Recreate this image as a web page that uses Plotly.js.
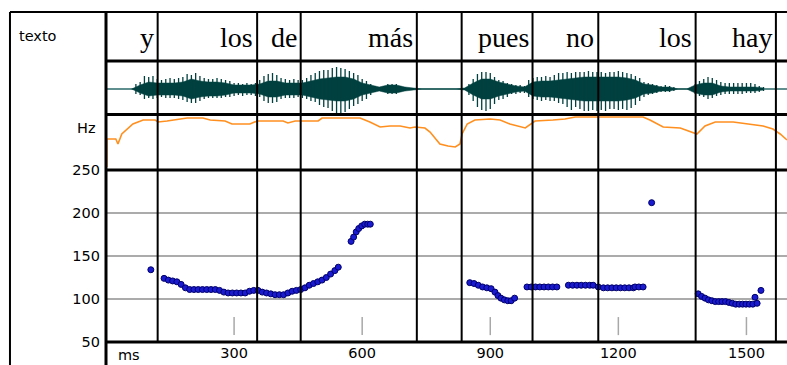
<!DOCTYPE html>
<html>
<head>
<meta charset="utf-8">
<script src="https://cdn.plot.ly/plotly-3.0.1.min.js"></script>
<style>html,body{margin:0;padding:0;background:#fff;}#chart{width:787px;height:365px;}</style>
</head>
<body>
<div id="chart"></div>
<script>
// ---- data ----
const wordNames = ['y', 'los', 'de', 'más', '', 'pues', 'no', 'los', 'hay'];
const wordEnds = [121, 354, 456, 728, 833, 999, 1153, 1381, 1569];

const msTicks = [300, 600, 900, 1200, 1500];
const msTickText = ['300', '600', '900', '1200', '1500'];
const hzTicks = [50, 100, 150, 200, 250];
const hzTickText = ['50', '100', '150', '200', '250'];

// F0 points (ms, Hz)
const f0Time = [105,
  136, 146, 156, 166, 176, 186, 196, 206, 216, 226, 236, 246, 256, 266, 276, 286, 296, 306, 316, 326,
  336, 346, 356, 366, 376, 386, 396, 406, 416, 426, 436, 446, 456, 466, 476, 486, 496, 506, 516, 526, 536, 544,
  574, 580, 586, 592, 599, 606, 613, 619,
  852, 862, 872, 882, 892, 902, 911, 918, 925, 933, 941, 949, 957,
  986, 996, 1006, 1016, 1026, 1036, 1046, 1056,
  1083, 1093, 1103, 1113, 1123, 1133, 1141, 1153, 1165, 1175, 1185, 1195, 1205, 1215, 1225, 1235, 1239, 1248, 1258,
  1278,
  1387, 1395, 1403, 1411, 1419, 1427, 1435, 1443, 1451, 1459, 1467, 1475, 1483, 1491, 1499, 1507, 1515, 1520, 1525, 1534];
const f0Hz = [134,
  124, 122, 121, 120, 117, 113, 111, 111, 111, 111, 111, 111, 111, 110, 108, 107, 107, 107, 107, 107,
  109, 110, 110, 108, 107, 106, 105, 105, 105, 107, 109, 110, 111, 113, 116, 118, 120, 122, 125, 129, 133, 137,
  167, 172, 178, 182, 185, 187, 187, 187,
  119, 118, 116, 114, 113, 112, 108, 104, 101, 99, 98, 98, 101,
  114, 114, 114, 114, 114, 114, 114, 114,
  116, 116, 116, 116, 116, 116, 116, 114, 113, 113, 113, 113, 113, 113, 113, 113, 114, 114, 114,
  212,
  106, 103, 101, 99, 98, 97, 97, 97, 97, 96, 95, 94, 94, 94, 94, 94, 94, 102, 95, 110];

// orange contour (ms, level)
const contourTime = [2, 2, 23, 28, 37, 63, 87, 115, 122, 143, 190, 227, 244, 279, 295, 337, 354, 415, 426, 443,
  497, 506, 536, 595, 618, 642, 665, 689, 712, 724, 747, 759, 782, 801, 818, 829, 834, 846, 864, 900,
  923, 946, 982, 1005, 1047, 1075, 1099, 1157, 1204, 1228, 1258, 1274, 1305, 1345, 1368, 1384, 1403, 1427, 1469, 1509,
  1539, 1562, 1579, 1595];
const contourLevel = [3, 31, 31, 26, 36, 46, 50, 50, 48, 49, 52, 52, 50, 49, 46, 46, 49, 49, 47, 49,
  49, 52, 52, 52, 48, 43, 44, 44, 42, 43, 42, 38, 26, 24, 23, 26, 36, 46, 50, 51,
  50, 46, 42, 49, 50, 51, 53, 53, 53, 53.5, 53, 50, 43, 42, 38, 36, 44, 48, 48, 46,
  44, 41, 36, 30];

// waveform envelope: spike extents every 10 ms from 60 ms, core every 20 ms from 60 ms
const waveStart = 60;
const waveStep = 10;
const waveUp = [
  0, 5, 7, 13, 12, 13, 10, 9, 10, 11,
  10, 11, 12, 15, 14, 16, 13, 11, 10, 10,
  11, 10, 9, 8, 6, 6, 5, 6, 5, 6,
  9, 13, 15, 16, 14, 11, 10, 9, 10, 9,
  9, 11, 14, 16, 18, 19, 19, 21, 22, 21,
  20, 18, 16, 14, 10, 8, 5, 3, 2, 3,
  5, 5, 5, 3, 2, 1, 0, 0, 0, 0,
  0, 0, 0, 0, 0, 0, 0, 0, 0, 5,
  10, 15, 17, 17, 16, 12, 9, 8, 6, 5,
  4, 4, 3, 9, 11, 12, 12, 13, 12, 14,
  16, 16, 17, 16, 17, 17, 17, 18, 17, 17,
  17, 16, 17, 17, 18, 17, 16, 15, 13, 11,
  7, 6, 5, 4, 3, 4, 3, 2, 0, 0,
  0, 0, 5, 8, 10, 12, 11, 9, 7, 6,
  6, 6, 6, 6, 6, 6, 5, 3, 2, 0];
const waveDown = [
  0, 5, 6, 10, 9, 10, 9, 8, 9, 9,
  9, 10, 11, 13, 14, 14, 12, 10, 9, 9,
  9, 9, 8, 8, 7, 6, 7, 6, 6, 7,
  8, 12, 14, 14, 13, 10, 9, 9, 9, 8,
  9, 10, 12, 13, 16, 18, 19, 22, 24, 24,
  23, 20, 17, 15, 12, 10, 6, 3, 2, 3,
  5, 5, 5, 3, 2, 1, 0, 0, 0, 0,
  0, 0, 0, 0, 0, 0, 0, 0, 0, 6,
  12, 18, 21, 22, 20, 15, 11, 10, 8, 5,
  5, 4, 4, 8, 10, 11, 12, 11, 12, 12,
  14, 15, 18, 21, 18, 20, 22, 22, 21, 22,
  21, 22, 20, 20, 21, 20, 21, 19, 16, 12,
  8, 6, 5, 4, 3, 3, 3, 2, 0, 0,
  0, 0, 5, 7, 8, 10, 9, 7, 6, 5,
  5, 5, 5, 5, 4, 4, 4, 3, 2, 0];
const coreStep = 20;
const waveCore = [
  0, 4, 7, 6, 6, 6, 7, 10, 8, 7,
  7, 6, 4, 4, 4, 5, 8, 8, 6, 6,
  6, 8, 10, 11, 12, 12, 10, 6, 4, 2,
  4, 4, 2, 1, 0, 0, 0, 0, 0, 1,
  6, 10, 10, 7, 5, 3, 2, 7, 8, 8,
  9, 10, 11, 12, 12, 12, 12, 12, 11, 9,
  5, 4, 2, 2, 0, 0, 4, 6, 6, 3,
  2, 2, 2, 2, 1];

// ---- build ----
const teal = '#00403f';
const coreX = [], coreYtop = [];
waveCore.forEach((v, i) => { coreX.push(waveStart + i * coreStep); coreYtop.push(v); });
const coreFillX = coreX.concat(coreX.slice().reverse());
const coreFillY = coreYtop.concat(coreYtop.slice().reverse().map(v => -v));

const spikeX = [], spikeY = [];
waveUp.forEach((u, i) => {
  const t = waveStart + i * waveStep;
  spikeX.push(t, t, null);
  spikeY.push(-waveDown[i], u, null);
});

const traces = [
  {x: coreFillX, y: coreFillY, xaxis: 'x', yaxis: 'y3', type: 'scatter', mode: 'lines',
   fill: 'toself', fillcolor: teal, line: {color: teal, width: 0.5}, hoverinfo: 'skip'},
  {x: spikeX, y: spikeY, xaxis: 'x', yaxis: 'y3', type: 'scatter', mode: 'lines',
   line: {color: teal, width: 1.3}, connectgaps: false, hoverinfo: 'skip'},
  {x: contourTime, y: contourLevel, xaxis: 'x', yaxis: 'y2', type: 'scatter', mode: 'lines',
   line: {color: '#ff8f1f', width: 1.6}, hoverinfo: 'skip'},
  {x: f0Time, y: f0Hz, xaxis: 'x', yaxis: 'y', type: 'scatter', mode: 'markers',
   marker: {color: '#1a1ad0', size: 6, line: {color: '#00006a', width: 1}}}
];

// layout geometry
const dF0 = [0, 0.5212], dCont = [0.5212, 0.6894], dWave = [0.6894, 0.8515];
const labelFont = {family: 'DejaVu Sans, sans-serif', size: 14.5, color: '#000'};

const shapes = [];
// word boundaries
wordEnds.forEach(w => shapes.push({type: 'line', xref: 'x', yref: 'paper', x0: w, x1: w, y0: 0, y1: 1,
  line: {color: '#000', width: 2}}));
// small gray ticks
msTicks.forEach(t => shapes.push({type: 'line', xref: 'x', yref: 'y', x0: t, x1: t, y0: 58, y1: 79,
  line: {color: '#a8a8a8', width: 1.5}}));
// waveform baseline
shapes.push({type: 'line', xref: 'paper', yref: 'y3', x0: 0, x1: 1, y0: 0, y1: 0,
  line: {color: '#2a6a6a', width: 1.5}, layer: 'below'});
// row separators
[dF0[1], dCont[1], dWave[1], 0].forEach(y => shapes.push({type: 'line', xref: 'paper', yref: 'paper',
  x0: 0, x1: 1, y0: y, y1: y, line: {color: '#000', width: 3}}));
// frame
shapes.push({type: 'line', xref: 'paper', yref: 'paper', x0: -0.141, x1: 1, y0: 1, y1: 1, line: {color: '#000', width: 2}});
shapes.push({type: 'line', xref: 'paper', yref: 'paper', x0: -0.141, x1: -0.141, y0: 1, y1: -0.08, line: {color: '#000', width: 2}});
shapes.push({type: 'line', xref: 'paper', yref: 'paper', x0: 0, x1: 0, y0: 1, y1: -0.08, line: {color: '#000', width: 3}});

const annotations = [];
wordNames.forEach((w, i) => {
  if (!w) return;
  annotations.push({text: w, xref: 'x', yref: 'paper', x: wordEnds[i], y: 0.924, xanchor: 'right', yanchor: 'middle',
    xshift: -2, showarrow: false, font: {family: 'Liberation Serif, serif', size: 28, color: '#000'}});
});
annotations.push({text: 'texto', xref: 'paper', yref: 'paper', x: -0.131, y: 0.927, xanchor: 'left', yanchor: 'middle',
  showarrow: false, font: labelFont});
annotations.push({text: 'Hz', xref: 'paper', yref: 'paper', x: -0.012, y: 0.6485, xanchor: 'right', yanchor: 'middle',
  showarrow: false, font: labelFont});
annotations.push({text: 'ms', xref: 'paper', yref: 'paper', x: 0.015, y: -0.04, xanchor: 'left', yanchor: 'middle',
  showarrow: false, font: labelFont});

const hidden = {showgrid: false, zeroline: false, showticklabels: false, ticks: '', showline: false, fixedrange: true};

const layout = {
  width: 787, height: 365,
  margin: {l: 106, r: 0, t: 12, b: 23, pad: 0},
  paper_bgcolor: '#fff', plot_bgcolor: '#fff',
  showlegend: false,
  xaxis: {domain: [0, 1], range: [0, 1595], anchor: 'y', tickmode: 'array', tickvals: msTicks, ticktext: msTickText,
    ticks: '', showgrid: false, zeroline: false, showline: false, tickfont: labelFont, fixedrange: true},
  yaxis: {domain: dF0, range: [50, 250], anchor: 'x', tickmode: 'array', tickvals: hzTicks, ticktext: hzTickText,
    ticks: '', ticklabelstandoff: 5, showgrid: true, gridcolor: '#ababab', gridwidth: 2, zeroline: false, showline: false,
    tickfont: labelFont, fixedrange: true},
  yaxis2: Object.assign({domain: dCont, range: [0, 55.5], anchor: 'x'}, hidden),
  yaxis3: Object.assign({domain: dWave, range: [-25.5, 28], anchor: 'x'}, hidden),
  shapes: shapes,
  annotations: annotations
};

Plotly.newPlot('chart', traces, layout, {staticPlot: true, displayModeBar: false});
</script>
</body>
</html>
